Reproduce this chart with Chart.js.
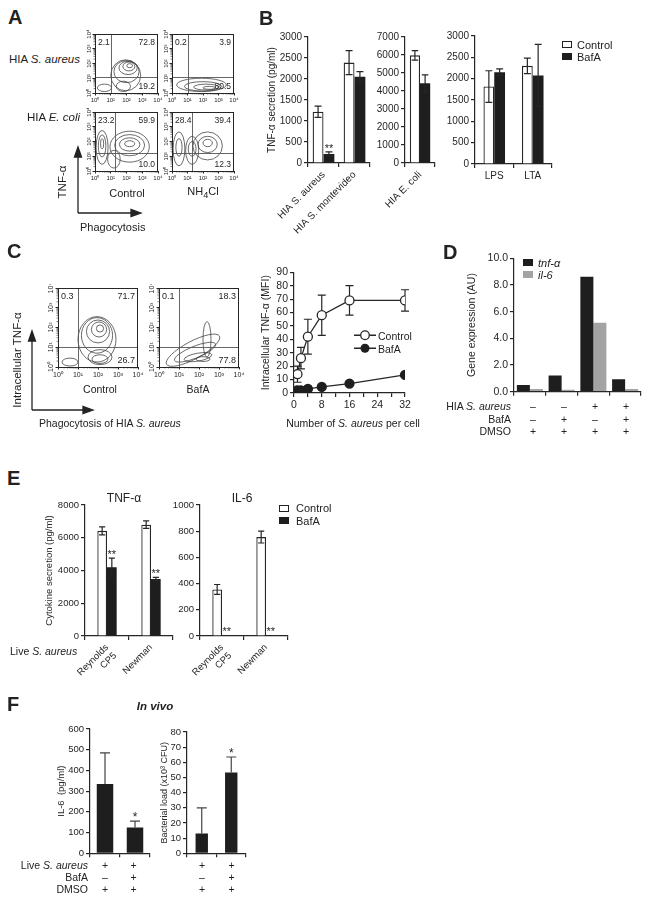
<!DOCTYPE html>
<html><head><meta charset="utf-8">
<script src="https://cdn.jsdelivr.net/npm/chart.js@4"></script>
<style>
body{margin:0;background:#fff;width:648px;height:900px;position:relative;overflow:hidden;font-family:"Liberation Sans",Arial,sans-serif;color:#222}
.t{position:absolute;white-space:nowrap;font-size:10.5px;line-height:1}
.c{transform:translate(-50%,-50%)}
.r{transform:translate(-100%,-50%)}
.l{transform:translate(0,-50%)}
.v{transform:translate(-50%,-50%) rotate(-90deg)}
.L{font-weight:bold;font-size:20px}
canvas{position:absolute}
.box{position:absolute;width:10px;height:7px;border:1.2px solid #222;box-sizing:border-box}
</style></head><body>
<svg id="arrows" width="648" height="900" style="position:absolute;left:0;top:0">
  <g stroke="#222" stroke-width="1.3" fill="#222">
    <line x1="78" y1="213" x2="78" y2="156"/><polygon points="78,147 74.5,157 81.5,157"/>
    <line x1="78" y1="213" x2="132" y2="213"/><polygon points="141,213 131,209.5 131,216.5"/>
    <line x1="32" y1="410" x2="32" y2="340"/><polygon points="32,331 28.5,341 35.5,341"/>
    <line x1="32" y1="410" x2="84" y2="410"/><polygon points="93,410 83,406.5 83,413.5"/>
  </g>
</svg>
<script>
// ================= DATA =================
// Panel A: flow cytometry quadrant percentages [upper-left, upper-right, lower-right]
const aRowLabels = ['HIA <i>S. aureus</i>', 'HIA <i>E. coli</i>'];
const aColLabels = ['Control', 'NH<sub>4</sub>Cl'];
const aSaurCtrl = ['2.1', '72.8', '19.2'];
const aSaurNH4 = ['0.2', '3.9', '80.5'];
const aEcoliCtrl = ['23.2', '59.9', '10.0'];
const aEcoliNH4 = ['28.4', '39.4', '12.3'];
const flowDecades = [1, 10, 100, 1000, 10000];
// gates [log10 x, log10 y]
const aSaurGate = [1.0, 1.1];
const aEcoliGate = [1.3, 1.2];
// contour rings [log cx, log cy, log rx, log ry, angle]
const aSaurCtrlRings = [[2.2,1.85,0.18,0.14,0],[2.15,1.8,0.38,0.3,0],[2.1,1.7,0.58,0.45,0],[2.0,1.45,0.8,0.75,0],[1.95,1.2,0.95,1.05,0],[0.6,0.35,0.45,0.25,0],[1.8,0.45,0.45,0.35,0]];
const aSaurNH4Rings = [[1.9,0.55,1.6,0.45,0],[2.0,0.45,1.2,0.32,0],[2.2,0.4,0.8,0.2,0],[2.4,0.35,0.4,0.1,0]];
const aEcoliCtrlRings = [[0.45,1.6,0.38,1.15,0],[0.45,1.7,0.24,0.75,0],[0.45,1.85,0.1,0.35,0],[2.2,1.65,1.25,1.05,0],[2.2,1.75,0.95,0.72,0],[2.2,1.8,0.65,0.45,0],[2.2,1.85,0.32,0.2,0],[1.2,0.8,0.4,0.6,0]];
const aEcoliNH4Rings = [[0.45,1.5,0.38,1.15,0],[0.45,1.6,0.2,0.6,0],[1.3,1.4,0.42,0.95,0],[1.3,1.5,0.25,0.5,0],[2.3,1.7,0.95,0.95,0],[2.3,1.8,0.62,0.55,0],[2.3,1.9,0.3,0.25,0]];

// Panel B: TNF-α secretion (pg/ml)
const bCats1 = ['HIA S. aureus', 'HIA S. montevideo'];
const bCtrl1 = [1220, 2390]; const bCtrl1Err = [135, 285];
const bBaf1 = [215, 2055]; const bBaf1Err = [50, 120];
const bCats2 = ['HIA E. coli'];
const bCtrl2 = [5980]; const bCtrl2Err = [260];
const bBaf2 = [4430]; const bBaf2Err = [470];
const bCats3 = ['LPS', 'LTA'];
const bCtrl3 = [1815, 2300]; const bCtrl3Err = [370, 180];
const bBaf3 = [2150, 2075]; const bBaf3Err = [80, 730];

// Panel C: flow cytometry + dose response
const cFlowCtrl = ['0.3', '71.7', '26.7'];
const cFlowBaf = ['0.1', '18.3', '77.8'];
const cGate = [1.0, 1.0];
const cCtrlRings = [[2.1,1.95,0.18,0.18,0],[2.05,1.9,0.38,0.38,0],[2.0,1.8,0.58,0.58,0],[1.95,1.6,0.78,0.9,0],[1.95,1.4,0.95,1.15,0],[2.1,0.4,0.4,0.22,0],[2.1,0.5,0.6,0.38,0],[0.6,0.25,0.4,0.2,0]];
const cBafRings = [[1.7,0.85,1.5,0.45,28],[1.8,0.75,1.1,0.3,22],[1.95,0.5,0.7,0.2,10],[2.2,0.4,0.35,0.12,0],[2.4,1.4,0.2,0.9,0]];
const cDoses = [1, 2, 4, 8, 16, 32];
const cCtrl = [14, 26, 42, 58, 69, 69];
const cCtrlErr = [6, 8, 13, 15, 11, 8];
const cBaf = [2, 2, 3, 4.5, 7, 13.5];
const cBafErr = [0, 0, 0, 0, 0, 0];

// Panel D: gene expression (AU)
const dTnf = [0.5, 1.22, 8.62, 0.94];
const dIl6 = [0.2, 0.14, 5.17, 0.2];
const dRowLabels = ['HIA <i>S. aureus</i>', 'BafA', 'DMSO'];
const dRows = [['–','–','+','+'], ['–','+','–','+'], ['+','+','+','+']];

// Panel E: cytokine secretion (pg/ml), live S. aureus
const eCats = [['Reynolds','CP5'], 'Newman'];
const eTnfCtrl = [6420, 6800]; const eTnfCtrlErr = [250, 230];
const eTnfBaf = [4200, 3480]; const eTnfBafErr = [550, 100];
const eIl6Ctrl = [355, 755]; const eIl6CtrlErr = [38, 45];
const eIl6Baf = [5, 4]; const eIl6BafErr = [0, 0];

// Panel F: in vivo
const fIl6 = [335, 125]; const fIl6Err = [150, 30];
const fLoad = [13, 53.3]; const fLoadErr = [17, 10.2];
const fRowLabels = ['Live <i>S. aureus</i>', 'BafA', 'DMSO'];
const fRows = [['+','+'], ['–','+'], ['+','+']];

// ================= HELPERS =================
const INK = '#262626';
const FONT = '"Liberation Sans", Arial, sans-serif';
Chart.defaults.font.family = FONT;
Chart.defaults.font.size = 10;
Chart.defaults.color = INK;
Chart.defaults.animation = false;
Chart.defaults.responsive = false;
Chart.defaults.devicePixelRatio = 1;
Chart.defaults.plugins.legend.display = false;
Chart.defaults.plugins.tooltip.enabled = false;

function T(html, x, y, cls, style){
  const d = document.createElement('div');
  d.className = 't ' + (cls || '');
  d.innerHTML = html; d.style.left = x + 'px'; d.style.top = y + 'px';
  if (style) d.style.cssText += style;
  document.body.appendChild(d); return d;
}
function B(x, y, fill){
  const d = document.createElement('div'); d.className = 'box';
  d.style.left = x + 'px'; d.style.top = y + 'px'; d.style.background = fill;
  if (fill !== '#fff') d.style.borderColor = fill;
  document.body.appendChild(d);
}
function place(g){
  const padT = g.padT ?? 8, padR = g.padR ?? 6;
  const c = document.createElement('canvas');
  const W = g.axisW + g.w + padR, H = padT + g.h + g.xH;
  c.width = W; c.height = H;
  c.style.left = (g.ax - g.axisW) + 'px'; c.style.top = (g.top - padT) + 'px';
  c.style.width = W + 'px'; c.style.height = H + 'px';
  document.body.appendChild(c);
  return {c, padT, padR};
}
const sup = ['⁰','¹','²','³','⁴'];
const supLabel = v => '10' + sup[Math.round(Math.log10(v))];

function drawErr(chart, o){
  const ctx = chart.ctx, ys = chart.scales.y;
  ctx.save(); ctx.strokeStyle = o.color || INK; ctx.lineWidth = o.lw || 1.2;
  (o.errs || []).forEach((errs, di) => {
    if (!errs) return;
    const meta = chart.getDatasetMeta(di), data = chart.data.datasets[di].data;
    meta.data.forEach((el, j) => {
      const e = errs[j]; if (!e) return;
      const v = typeof data[j] === 'object' ? data[j].y : data[j];
      const yT = ys.getPixelForValue(v + e), yB = o.up ? ys.getPixelForValue(v) : ys.getPixelForValue(v - e);
      const cap = o.cap || el.width * 0.32;
      ctx.beginPath(); ctx.moveTo(el.x, yT); ctx.lineTo(el.x, yB);
      ctx.moveTo(el.x - cap, yT); ctx.lineTo(el.x + cap, yT);
      if (!o.up) { ctx.moveTo(el.x - cap, yB); ctx.lineTo(el.x + cap, yB); }
      ctx.stroke();
    });
  });
  if (o.stars) {
    ctx.fillStyle = INK; ctx.font = (o.sfs || 11) + 'px ' + FONT;
    ctx.textAlign = 'center'; ctx.textBaseline = 'alphabetic';
    o.stars.forEach((st, di) => {
      if (!st) return;
      const meta = chart.getDatasetMeta(di), data = chart.data.datasets[di].data;
      st.forEach((s, j) => {
        if (!s) return;
        const e = (o.errs && o.errs[di] && o.errs[di][j]) || 0;
        ctx.fillText(s, meta.data[j].x, ys.getPixelForValue(data[j] + e) + (o.sdy || 0));
      });
    });
  }
  ctx.restore();
}
const errPlugin = {
  id: 'err',
  beforeDatasetsDraw(chart, args, o){ if (o && o.behind) drawErr(chart, o); },
  afterDatasetsDraw(chart, args, o){ if (o && !o.behind && o.errs) drawErr(chart, o); }
};

function yAxis(g, o){
  return {
    min: o.min, max: o.max,
    ticks: {stepSize: o.step, callback: o.fmt || (v => v), font: {size: o.fs || 10}, color: INK, padding: 2, autoSkip: false},
    grid: {drawOnChartArea: false, drawTicks: true, tickLength: 4, color: INK, lineWidth: 1.2},
    border: {display: true, color: INK, width: 1.2},
    title: o.title ? {display: true, text: o.title, font: {size: o.tfs || 10}, color: INK, padding: {top: 0, bottom: 0}} : {display: false},
    afterFit(s){ s.width = g.axisW; }
  };
}
function xCat(g, o){
  return {
    offset: true,
    grid: {drawOnChartArea: false, offset: true, tickLength: 4, color: INK, lineWidth: 1.2},
    border: {display: true, color: INK, width: 1.2},
    ticks: {display: !!o.show, maxRotation: o.rot || 0, minRotation: o.rot || 0, autoSkip: false, font: {size: o.fs || 10}, color: INK, padding: 2},
    afterFit(s){ s.height = g.xH; }
  };
}
function bars(g, labels, sets, yo, xo, err){
  const {c, padT, padR} = place(g);
  return new Chart(c, {
    type: 'bar',
    data: {labels, datasets: sets},
    options: {
      layout: {padding: {top: padT, right: padR, left: 0, bottom: 0}},
      scales: {x: xCat(g, xo), y: yAxis(g, yo)},
      plugins: {err}
    },
    plugins: [errPlugin]
  });
}
const ctrlDS = (data, cp) => ({data, backgroundColor: '#fff', borderColor: INK, borderWidth: 1.3, categoryPercentage: cp, barPercentage: 1});
const bafDS = (data, cp) => ({data, backgroundColor: '#1e1e1e', borderColor: '#1e1e1e', borderWidth: 0, categoryPercentage: cp, barPercentage: 1});

// flow cytometry plot
const flowPlugin = {
  id: 'flow',
  afterDraw(chart, args, o){
    const {ctx, chartArea: a, scales: {x, y}} = chart;
    ctx.save();
    ctx.beginPath(); ctx.rect(a.left, a.top, a.width, a.height); ctx.clip();
    const kx = a.width / 4, ky = a.height / 4;
    ctx.strokeStyle = '#3a3a3a'; ctx.lineWidth = 0.75;
    o.rings.forEach(r => {
      ctx.beginPath();
      ctx.ellipse(x.getPixelForValue(10 ** r[0]), y.getPixelForValue(10 ** r[1]), r[2] * kx, r[3] * ky, -(r[4] || 0) * Math.PI / 180, 0, 2 * Math.PI);
      ctx.stroke();
    });
    ctx.strokeStyle = '#555'; ctx.lineWidth = 0.9;
    const gx = Math.round(x.getPixelForValue(10 ** o.gate[0])) + 0.5, gy = Math.round(y.getPixelForValue(10 ** o.gate[1])) + 0.5;
    ctx.beginPath(); ctx.moveTo(gx, a.top); ctx.lineTo(gx, a.bottom); ctx.moveTo(a.left, gy); ctx.lineTo(a.right, gy); ctx.stroke();
    ctx.restore();
    ctx.save();
    ctx.strokeStyle = INK; ctx.lineWidth = 1;
    ctx.strokeRect(Math.round(a.left) + 0.5, Math.round(a.top) + 0.5, Math.round(a.width) - 1, Math.round(a.height));
    // minor ticks
    ctx.beginPath();
    for (let k = 0; k < 4; k++) for (let m = 2; m < 10; m++) {
      const v = m * 10 ** k;
      const px = x.getPixelForValue(v), py = y.getPixelForValue(v);
      ctx.moveTo(px, a.bottom); ctx.lineTo(px, a.bottom + 1.5);
      ctx.moveTo(a.left, py); ctx.lineTo(a.left - 1.5, py);
    }
    ctx.lineWidth = 0.6; ctx.stroke();
    ctx.fillStyle = INK; ctx.font = o.fs + 'px ' + FONT;
    ctx.textBaseline = 'top'; ctx.textAlign = 'left'; ctx.fillText(o.quad[0], a.left + 3, a.top + 4);
    ctx.textAlign = 'right'; ctx.fillText(o.quad[1], a.right - 3, a.top + 4);
    ctx.textBaseline = 'bottom'; ctx.fillText(o.quad[2], a.right - 3, a.bottom - 2);
    ctx.font = o.tfs + 'px ' + FONT; ctx.textAlign = 'center'; ctx.textBaseline = 'bottom';
    y.ticks.forEach(t => {
      const py = y.getPixelForValue(t.value);
      ctx.save(); ctx.translate(a.left - 3, py); ctx.rotate(-Math.PI / 2); ctx.fillText(supLabel(t.value), 0, 0); ctx.restore();
    });
    ctx.restore();
  }
};
function flow(g, quad, rings, gate, fs, tfs){
  const {c, padT, padR} = place(g);
  const decTicks = s => { s.ticks = flowDecades.map(v => ({value: v})); };
  new Chart(c, {
    type: 'scatter',
    data: {datasets: [{data: []}]},
    options: {
      layout: {padding: {top: padT, right: padR}},
      scales: {
        x: {type: 'logarithmic', min: 1, max: 10000, afterBuildTicks: decTicks,
            ticks: {callback: v => supLabel(v), font: {size: tfs}, color: INK, padding: 1, maxRotation: 0, autoSkip: false},
            grid: {drawOnChartArea: false, tickLength: 2.5, color: INK}, border: {display: true, color: INK},
            afterFit(s){ s.height = g.xH; }},
        y: {type: 'logarithmic', min: 1, max: 10000, afterBuildTicks: decTicks,
            ticks: {display: false},
            grid: {drawOnChartArea: false, tickLength: 2.5, color: INK}, border: {display: true, color: INK},
            afterFit(s){ s.width = g.axisW; }}
      },
      plugins: {flow: {quad, rings, gate, fs, tfs}}
    },
    plugins: [flowPlugin]
  });
}

// ================= PANEL A =================
T('A', 8, 17, 'L l');
flow({ax: 95, top: 34, w: 63, h: 59, axisW: 13, xH: 10, padT: 4, padR: 8}, aSaurCtrl, aSaurCtrlRings, aSaurGate, 8.5, 6);
flow({ax: 172, top: 34, w: 62, h: 59, axisW: 13, xH: 10, padT: 4, padR: 8}, aSaurNH4, aSaurNH4Rings, aSaurGate, 8.5, 6);
flow({ax: 95, top: 112, w: 63, h: 59, axisW: 13, xH: 10, padT: 4, padR: 8}, aEcoliCtrl, aEcoliCtrlRings, aEcoliGate, 8.5, 6);
flow({ax: 172, top: 112, w: 62, h: 59, axisW: 13, xH: 10, padT: 4, padR: 8}, aEcoliNH4, aEcoliNH4Rings, aEcoliGate, 8.5, 6);
T(aRowLabels[0], 80, 60, 'r', 'font-size:11.5px');
T(aRowLabels[1], 80, 118, 'r', 'font-size:11.5px');
T(aColLabels[0], 127, 193, 'c', 'font-size:11px');
T(aColLabels[1], 203, 193, 'c', 'font-size:11px');
T('TNF-α', 63, 182, 'v', 'font-size:11.5px');
T('Phagocytosis', 80, 227, 'l', 'font-size:11px');

// ================= PANEL B =================
T('B', 259, 18, 'L l');
bars({ax: 308, top: 37, w: 62, h: 126, axisW: 42, xH: 90, padT: 8, padR: 4}, bCats1,
  [ctrlDS(bCtrl1, 0.7), bafDS(bBaf1, 0.7)],
  {min: 0, max: 3000, step: 500, title: 'TNF-α secretion (pg/ml)'}, {show: true, rot: 45},
  {errs: [bCtrl1Err, bBaf1Err], stars: [null, ['**', '']]});
bars({ax: 400, top: 37, w: 35, h: 126, axisW: 30, xH: 90, padT: 8, padR: 4}, bCats2,
  [ctrlDS(bCtrl2, 0.68), bafDS(bBaf2, 0.68)],
  {min: 0, max: 7000, step: 1000}, {show: true, rot: 45},
  {errs: [bCtrl2Err, bBaf2Err]});
bars({ax: 475, top: 36, w: 77, h: 128, axisW: 30, xH: 20, padT: 8, padR: 4}, bCats3,
  [ctrlDS(bCtrl3, 0.56), bafDS(bBaf3, 0.56)],
  {min: 0, max: 3000, step: 500}, {show: true},
  {errs: [bCtrl3Err, bBaf3Err]});
B(562, 41, '#fff'); T('Control', 577, 45, 'l', 'font-size:11px');
B(562, 53, '#1e1e1e'); T('BafA', 577, 57, 'l', 'font-size:11px');

// ================= PANEL C =================
T('C', 7, 251, 'L l');
flow({ax: 58, top: 288, w: 80, h: 79, axisW: 14, xH: 12, padT: 4, padR: 8}, cFlowCtrl, cCtrlRings, cGate, 9, 7);
flow({ax: 159, top: 288, w: 80, h: 79, axisW: 14, xH: 12, padT: 4, padR: 8}, cFlowBaf, cBafRings, cGate, 9, 7);
T('Control', 100, 389, 'c', 'font-size:10.5px');
T('BafA', 198, 389, 'c', 'font-size:10.5px');
T('Intracellular TNF-α', 18, 360, 'v', 'font-size:11.5px');
T('Phagocytosis of HIA <i>S. aureus</i>', 39, 423, 'l', 'font-size:10.5px');
(function(){
  const g = {ax: 294, top: 272, w: 111, h: 121, axisW: 34, xH: 30, padT: 8, padR: 8};
  const {c, padT, padR} = place(g);
  new Chart(c, {
    type: 'line',
    data: {datasets: [
      {data: cDoses.map((x, i) => ({x, y: cCtrl[i]})), borderColor: INK, borderWidth: 1.3, pointBackgroundColor: '#fff', pointBorderColor: INK, pointBorderWidth: 1.3, pointRadius: 4.5},
      {data: cDoses.map((x, i) => ({x, y: cBaf[i]})), borderColor: INK, borderWidth: 1.3, pointBackgroundColor: '#1e1e1e', pointBorderColor: '#1e1e1e', pointRadius: 4.5}
    ]},
    options: {
      layout: {padding: {top: padT, right: padR}},
      scales: {
        x: {type: 'linear', min: 0, max: 32,
            ticks: {stepSize: 4, callback: v => (v % 8 === 0 ? v : ''), font: {size: 10.5}, color: INK, padding: 2, maxRotation: 0, autoSkip: false},
            grid: {drawOnChartArea: false, tickLength: 4, color: INK, lineWidth: 1.2}, border: {display: true, color: INK, width: 1.2},
            afterFit(s){ s.height = g.xH; }},
        y: yAxis(g, {min: 0, max: 90, step: 10, fs: 10.5, tfs: 10.5, title: 'Intracellular TNF-α (MFI)'})
      },
      plugins: {err: {errs: [cCtrlErr, cBafErr], behind: true, cap: 4}}
    },
    plugins: [errPlugin]
  });
})();
T('Number of <i>S. aureus</i> per cell', 353, 423, 'c', 'font-size:10.5px');
T('<svg width="24" height="12"><line x1="1" y1="6" x2="23" y2="6" stroke="#262626" stroke-width="1.3"/><circle cx="12" cy="6" r="4.3" fill="#fff" stroke="#262626" stroke-width="1.3"/></svg>', 353, 336, 'l');
T('Control', 378, 336, 'l', 'font-size:10.5px');
T('<svg width="24" height="12"><line x1="1" y1="6" x2="23" y2="6" stroke="#262626" stroke-width="1.3"/><circle cx="12" cy="6" r="4.5" fill="#1e1e1e"/></svg>', 353, 349, 'l');
T('BafA', 378, 349, 'l', 'font-size:10.5px');

// ================= PANEL D =================
T('D', 443, 252, 'L l');
bars({ax: 514, top: 258, w: 127, h: 134, axisW: 48, xH: 8, padT: 8, padR: 4}, ['', '', '', ''],
  [{data: dTnf, backgroundColor: '#1e1e1e', borderWidth: 0, categoryPercentage: 0.82, barPercentage: 1},
   {data: dIl6, backgroundColor: '#a3a3a3', borderWidth: 0, categoryPercentage: 0.82, barPercentage: 1}],
  {min: 0, max: 10, step: 2, fmt: v => v.toFixed(1), fs: 10.5, tfs: 10.5, title: 'Gene expression (AU)'}, {show: false}, {});
B(523, 259, '#1e1e1e'); T('<i>tnf-α</i>', 538, 263, 'l', 'font-size:11px');
B(523, 271, '#a3a3a3'); T('<i>il-6</i>', 538, 275, 'l', 'font-size:11px');
dRowLabels.forEach((lab, r) => {
  const y = 406 + r * 12.5;
  T(lab, 511, y, 'r', 'font-size:10.5px');
  dRows[r].forEach((s, j) => T(s, 533 + j * 31, y, 'c', 'font-size:10.5px'));
});

// ================= PANEL E =================
T('E', 7, 478, 'L l');
bars({ax: 85, top: 505, w: 88, h: 131, axisW: 41, xH: 60, padT: 8, padR: 4}, eCats,
  [ctrlDS(eTnfCtrl, 0.44), bafDS(eTnfBaf, 0.44)],
  {min: 0, max: 8000, step: 2000, fs: 9.5, tfs: 9.5, title: 'Cytokine secretion (pg/ml)'}, {show: true, rot: 45, fs: 9.5},
  {errs: [eTnfCtrlErr, eTnfBafErr], stars: [null, ['**', '**']]});
bars({ax: 200, top: 505, w: 88, h: 131, axisW: 30, xH: 60, padT: 8, padR: 4}, eCats,
  [ctrlDS(eIl6Ctrl, 0.44), bafDS(eIl6Baf, 0.44)],
  {min: 0, max: 1000, step: 200, fs: 9.5}, {show: true, rot: 45, fs: 9.5},
  {errs: [eIl6CtrlErr, eIl6BafErr], stars: [null, ['**', '**']]});
T('TNF-α', 124, 498, 'c', 'font-size:12px');
T('IL-6', 242, 498, 'c', 'font-size:12px');
B(279, 505, '#fff'); T('Control', 296, 508, 'l', 'font-size:11px');
B(279, 517, '#1e1e1e'); T('BafA', 296, 521, 'l', 'font-size:11px');
T('Live <i>S. aureus</i>', 10, 651, 'l', 'font-size:10.5px');

// ================= PANEL F =================
T('F', 7, 704, 'L l');
T('<b><i>In vivo</i></b>', 155, 707, 'c', 'font-size:11.5px');
bars({ax: 90, top: 729, w: 60, h: 126, axisW: 34, xH: 6, padT: 8, padR: 4}, ['', ''],
  [{data: fIl6, backgroundColor: '#1e1e1e', borderWidth: 0, categoryPercentage: 1, barPercentage: 0.55}],
  {min: 0, max: 600, step: 100, fs: 9.5, tfs: 9.5, title: 'IL-6  (pg/ml)'}, {show: false},
  {errs: [fIl6Err], up: true, cap: 5, color: '#444', stars: [['', '*']], sfs: 12});
bars({ax: 187, top: 732, w: 59, h: 123, axisW: 28, xH: 6, padT: 8, padR: 4}, ['', ''],
  [{data: fLoad, backgroundColor: '#1e1e1e', borderWidth: 0, categoryPercentage: 1, barPercentage: 0.42}],
  {min: 0, max: 80, step: 10, fs: 9.5, tfs: 9, title: 'Bacterial load (x10³ CFU)'}, {show: false},
  {errs: [fLoadErr], up: true, cap: 5, color: '#444', stars: [['', '*']], sfs: 12});
fRowLabels.forEach((lab, r) => {
  const y = 865 + r * 12;
  T(lab, 88, y, 'r', 'font-size:10.5px');
  fRows[r].forEach((s, j) => {
    T(s, 105 + j * 28.5, y, 'c', 'font-size:10.5px');
    T(s, 202 + j * 29.5, y, 'c', 'font-size:10.5px');
  });
});
</script>
</body></html>
